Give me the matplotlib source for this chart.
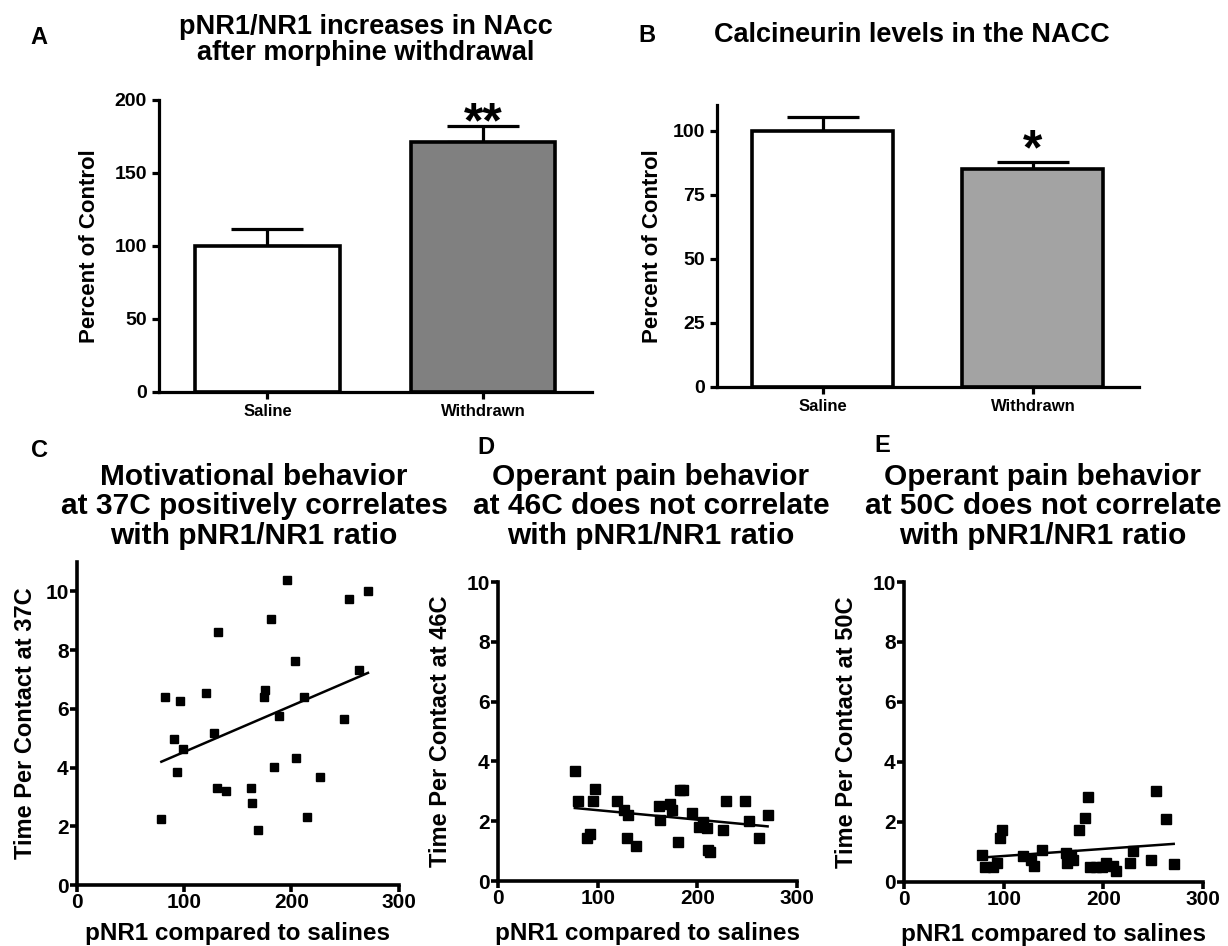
import numpy as np
import matplotlib
matplotlib.use("Agg")
import matplotlib.pyplot as plt

plt.rcParams['font.family'] = ['Liberation Sans', 'DejaVu Sans']

# --- bar panels (A, B) ---
groups = ['Saline', 'Withdrawn']
a_means = [100, 171.5]
a_sem = [11.4, 10.8]
b_means = [100, 85]
b_sem = [5.6, 3.0]
a_colors = ['white', '#808080']
b_colors = ['white', '#a3a3a3']

# --- scatter panels (C, D, E): pNR1 (% of saline) vs time per contact ---
c_x = [78.7, 81.8, 90.2, 96.4, 98.6, 93.0, 120, 127.5, 131.9, 130.6, 139.3, 162.7,
       163.6, 168.9, 174.2, 175.7, 181, 188.2, 184.1, 196, 203.4, 204.4, 211.8,
       214.6, 227, 248.8, 253.4, 262.8, 271.5]
c_y = [2.24, 6.40, 4.97, 6.27, 4.64, 3.84, 6.53, 5.19, 8.63, 3.30, 3.20, 3.30,
       2.80, 1.86, 6.40, 6.63, 9.06, 5.76, 4.02, 10.4, 7.62, 4.32, 6.39,
       2.32, 3.67, 5.65, 9.74, 7.33, 10.02]

d_x = [77.1, 79.8, 88.8, 92.2, 94.9, 97.2, 119, 126.4, 130.7, 129.7, 138.5, 161.6,
       162.6, 172.6, 174.3, 181, 182.7, 186, 194.4, 202.1, 205.5, 209.5, 211.2,
       212.9, 225.6, 229, 247.4, 252.1, 262.2, 270.5]
d_y = [3.67, 2.69, 1.43, 1.56, 2.66, 3.08, 2.66, 2.36, 2.21, 1.44, 1.17, 2.50,
       2.04, 2.56, 2.38, 1.30, 3.04, 3.04, 2.27, 1.80, 1.97, 1.78, 1.04,
       0.97, 1.71, 2.66, 2.69, 2.00, 1.43, 2.22]

e_x = [78.3, 80.9, 89.3, 93.6, 96, 98.7, 119.4, 127.8, 130.1, 138.8, 162.9, 163.5,
       168, 169.6, 175.3, 181.3, 184.6, 186.3, 193, 198.7, 203, 209.7, 212.4,
       226.4, 229.8, 248.2, 253.2, 262.5, 270.6]
e_y = [0.88, 0.50, 0.48, 0.63, 1.46, 1.71, 0.85, 0.72, 0.52, 1.07, 0.96, 0.63,
       0.88, 0.72, 1.71, 2.13, 2.82, 0.48, 0.50, 0.50, 0.63, 0.52, 0.37,
       0.61, 1.03, 0.72, 3.02, 2.10, 0.58]

W, H = 1228, 946
fig = plt.figure(figsize=(W / 100, H / 100), dpi=100)


def px_axes(left, top, right, bottom):
    return fig.add_axes([left / W, 1 - bottom / H, (right - left) / W, (bottom - top) / H])


def style(ax, lw=2.3):
    for s in ['top', 'right']:
        ax.spines[s].set_visible(False)
    for s in ['left', 'bottom']:
        ax.spines[s].set_linewidth(lw)
    ax.tick_params(width=lw, length=5, direction='out')


def bar_panel(ax, means, sem, colors, ymax, yticks, stars, star_y):
    x = np.arange(len(groups))
    ax.bar(x, means, width=0.67, color=colors, edgecolor='black', linewidth=2.6, zorder=2)
    ax.errorbar(x, means, yerr=[np.zeros(len(sem)), sem], fmt='none', ecolor='black',
                elinewidth=2.3, capsize=26, capthick=2.3, zorder=1)
    ax.set_xlim(-0.505, 1.505)
    ax.set_ylim(0, ymax)
    ax.set_yticks(yticks)
    ax.set_xticks(x)
    ax.set_xticklabels(groups, fontsize=12, fontweight='bold')
    ax.tick_params(axis='x', length=0, pad=4)
    for t in ax.get_yticklabels():
        t.set_fontsize(14)
        t.set_fontweight('bold')
    ax.set_ylabel('Percent of Control', fontsize=16, fontweight='bold')
    ax.text(1, star_y, stars, ha='center', va='baseline', fontsize=36, fontweight='bold')
    style(ax)


axA = px_axes(158.6, 100, 592, 391.6)
bar_panel(axA, a_means, a_sem, a_colors, 200, [0, 50, 100, 150, 200], '**', 174.5)
axA.yaxis.set_label_coords(-0.135, 0.5)

axB = px_axes(716.6, 105.4, 1139, 386.6)
bar_panel(axB, b_means, b_sem, b_colors, 110, [0, 25, 50, 75, 100], '*', 87)
axB.yaxis.set_label_coords(-0.127, 0.5)


def scatter_panel(ax, xs, ys, ymax, temp, ms):
    ax.plot(xs, ys, 's', color='black', markersize=ms, zorder=3)
    slope, icpt = np.polyfit(xs, ys, 1)
    xl = np.array([min(xs), max(xs)])
    ax.plot(xl, slope * xl + icpt, color='black', linewidth=1.8, zorder=2)
    ax.set_xlim(0, 300)
    ax.set_ylim(0, ymax)
    ax.set_xticks([0, 100, 200, 300])
    ax.set_yticks([0, 2, 4, 6, 8, 10])
    for t in ax.get_xticklabels() + ax.get_yticklabels():
        t.set_fontsize(15)
        t.set_fontweight('bold')
    ax.tick_params(pad=1)
    ax.set_xlabel('pNR1 compared to salines', fontsize=17.5, fontweight='bold')
    ax.set_ylabel('Time Per Contact at ' + temp, fontsize=17, fontweight='bold')
    style(ax, lw=2.6)


axC = px_axes(77, 562, 398.5, 885)
scatter_panel(axC, c_x, c_y, 11, '37C', 5.5)
axC.yaxis.set_label_coords(-0.124, 0.5)
axC.xaxis.set_label_coords(0.5, -0.115)

axD = px_axes(498, 582, 797, 881)
scatter_panel(axD, d_x, d_y, 10, '46C', 6.8)
axD.yaxis.set_label_coords(-0.154, 0.5)
axD.xaxis.set_label_coords(0.5, -0.137)

axE = px_axes(904, 582, 1203, 881.7)
scatter_panel(axE, e_x, e_y, 10, '50C', 6.8)
axE.yaxis.set_label_coords(-0.154, 0.5)
axE.xaxis.set_label_coords(0.5, -0.137)

# titles and panel letters
fig.text(366 / W, 1 - 40 / H, 'pNR1/NR1 increases in NAcc\nafter morphine withdrawal',
         ha='center', va='center', fontsize=19.5, fontweight='bold', linespacing=1.05)
fig.text(912 / W, 1 - 35 / H, 'Calcineurin levels in the NACC',
         ha='center', va='center', fontsize=19.5, fontweight='bold')
scatter_titles = [
    (254, 'Motivational behavior\nat 37C positively correlates\nwith pNR1/NR1 ratio'),
    (651, 'Operant pain behavior\nat 46C does not correlate\nwith pNR1/NR1 ratio'),
    (1043, 'Operant pain behavior\nat 50C does not correlate\nwith pNR1/NR1 ratio'),
]
for cx, txt in scatter_titles:
    fig.text(cx / W, 1 - 506.5 / H, txt, ha='center', va='center', fontsize=21.5,
             fontweight='bold', linespacing=1.08)

for lx, ly, lab in [(39, 37, 'A'), (647, 35, 'B'), (39, 450, 'C'), (485.5, 447, 'D'), (882, 445, 'E')]:
    fig.text(lx / W, 1 - ly / H, lab, ha='center', va='center', fontsize=17, fontweight='bold')

fig.savefig('out.png', dpi=100)
